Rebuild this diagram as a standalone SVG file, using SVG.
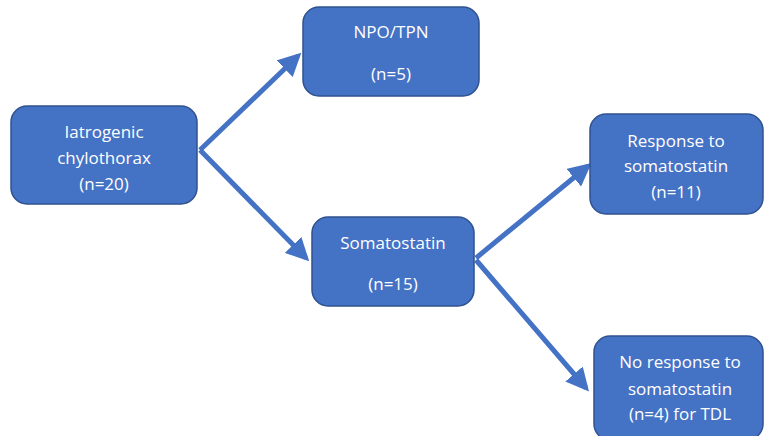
<svg xmlns="http://www.w3.org/2000/svg" width="764" height="436" viewBox="0 0 764 436">
<style>
.box{fill:#4472C4;stroke:#2F528F;stroke-width:1.5}
.t{font-family:"Open Sans","Liberation Sans",sans-serif;font-size:17px;fill:#fff;text-anchor:middle}
.c{stroke:#4472C4;stroke-width:5;fill:none}
</style>
<defs>
<marker id="ah" viewBox="0 0 10 10" refX="8" refY="5" markerWidth="4.6" markerHeight="4.6" markerUnits="strokeWidth" orient="auto">
<path d="M0,0 L10,5 L0,10 Z" fill="#4472C4"/>
</marker>
</defs>
<rect width="764" height="436" fill="#fff"/>
<g id="connectors">
<path class="c" d="M200,150 L298,56" marker-end="url(#ah)"/>
<path class="c" d="M200,150 L306,258" marker-end="url(#ah)"/>
<path class="c" d="M476,258 L588,166" marker-end="url(#ah)"/>
<path class="c" d="M476,260 L586,388" marker-end="url(#ah)"/>
</g>
<g id="n1">
<rect class="box" x="11" y="106" width="186" height="98" rx="16"/>
<text class="t" x="104" y="138">Iatrogenic</text>
<text class="t" x="104" y="164">chylothorax</text>
<text class="t" x="104" y="190">(n=20)</text>
</g>
<g id="n2">
<rect class="box" x="303" y="7" width="176" height="89" rx="16"/>
<text class="t" x="391" y="38">NPO/TPN</text>
<text class="t" x="391" y="80">(n=5)</text>
</g>
<g id="n3">
<rect class="box" x="312" y="217" width="162" height="89" rx="16"/>
<text class="t" x="393" y="249">Somatostatin</text>
<text class="t" x="393" y="290">(n=15)</text>
</g>
<g id="n4">
<rect class="box" x="590" y="114" width="173" height="100" rx="16"/>
<text class="t" x="676" y="147">Response to</text>
<text class="t" x="676" y="172">somatostatin</text>
<text class="t" x="676" y="198">(n=11)</text>
</g>
<g id="n5">
<rect class="box" x="594" y="336" width="169" height="104" rx="16"/>
<text class="t" x="680" y="368">No response to</text>
<text class="t" x="680" y="395">somatostatin</text>
<text class="t" x="680" y="420">(n=4) for TDL</text>
</g>
</svg>
